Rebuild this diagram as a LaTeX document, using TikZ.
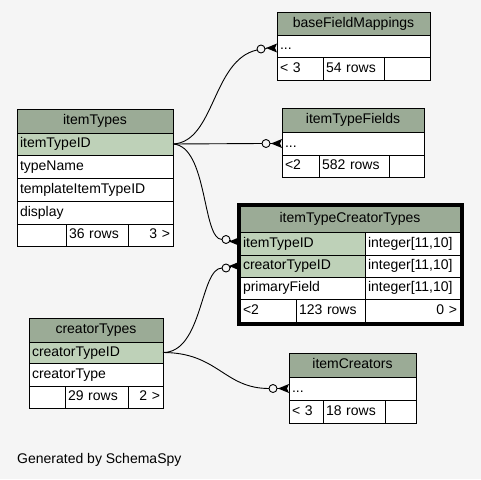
\documentclass[tikz,border=0pt]{standalone}
\usepackage{fontspec}
\setmainfont{Liberation Sans}
\usetikzlibrary{calc}
\definecolor{bg}{HTML}{F5F5F5}
\definecolor{headc}{HTML}{9BAB96}
\definecolor{keyc}{HTML}{BED1B8}
\tikzset{
  cell/.style={draw=black,line width=1pt,fill=white,inner xsep=3pt,inner ysep=0pt,outer sep=0pt,
    text height=10pt,text depth=3pt,font=\fontsize{14}{16}\selectfont},
  head/.style={fill=headc},
  keyrow/.style={fill=keyc},
  conn/.style={draw=black,line width=0.9pt},
}
\newcommand\tcell[8]{%
  \pgfmathsetmacro\tcw{#4-#2}%
  \pgfmathsetmacro\tch{#5-#3}%
  \pgfmathsetmacro\tct{#4-#2-6}%
  \node[cell,#6,minimum width=\tcw pt,minimum height=\tch pt,text width=\tct pt,align=#7,anchor=north west] (#1) at (#2,#3) {#8};}
\newcommand\crowodot[2]{%
  \draw[conn,fill=bg] (#1) circle (4pt);
  \draw[conn] ($(#1)+(4pt,0)$) -- ($(#2)+(-10pt,0)$);
  \fill ($(#2)+(-11pt,0)$) -- ($(#2)+(0,-4.5pt)$) -- ($(#2)+(-2pt,0)$) -- ($(#2)+(0,4.5pt)$) -- cycle;}
\begin{document}
\begin{tikzpicture}[x=1pt,y=-1pt]
\fill[bg] (0,0) rectangle (481,479);
\useasboundingbox (0,0) rectangle (481,479);

% baseFieldMappings
\tcell{bfm-h}{277}{12}{430}{35}{head}{center}{baseFieldMappings}
\tcell{bfm-1}{277}{35}{430}{57}{}{left}{...}
\tcell{bfm-f1}{277}{57}{323}{80}{}{left}{< 3}
\tcell{bfm-f2}{323}{57}{384}{80}{}{left}{54 rows}
\tcell{bfm-f3}{384}{57}{430}{80}{}{left}{}

% itemTypes
\tcell{it-h}{17}{109}{173}{133}{head}{center}{itemTypes}
\tcell{it-1}{17}{133}{173}{155}{keyrow}{left}{itemTypeID}
\tcell{it-2}{17}{155}{173}{178}{}{left}{typeName}
\tcell{it-3}{17}{178}{173}{201}{}{left}{templateItemTypeID}
\tcell{it-4}{17}{201}{173}{224}{}{left}{display}
\tcell{it-f1}{17}{224}{66}{246}{}{left}{}
\tcell{it-f2}{66}{224}{128}{246}{}{left}{36 rows}
\tcell{it-f3}{128}{224}{173}{246}{}{right}{3 >}

% itemTypeFields
\tcell{itf-h}{282}{108}{424}{132}{head}{center}{itemTypeFields}
\tcell{itf-1}{282}{132}{424}{155}{}{left}{...}
\tcell{itf-f1}{282}{155}{319}{177}{}{left}{<2}
\tcell{itf-f2}{319}{155}{389}{177}{}{left}{582 rows}
\tcell{itf-f3}{389}{155}{424}{177}{}{left}{}

% itemTypeCreatorTypes
\tcell{itct-h}{240}{206}{460}{232}{head}{center}{itemTypeCreatorTypes}
\tcell{itct-1}{240}{232}{365}{255}{keyrow}{left}{itemTypeID}
\tcell{itct-1t}{365}{232}{460}{255}{}{left}{integer[11,10]}
\tcell{itct-2}{240}{255}{365}{277}{keyrow}{left}{creatorTypeID}
\tcell{itct-2t}{365}{255}{460}{277}{}{left}{integer[11,10]}
\tcell{itct-3}{240}{277}{365}{299}{}{left}{primaryField}
\tcell{itct-3t}{365}{277}{460}{299}{}{left}{integer[11,10]}
\tcell{itct-f1}{240}{299}{296}{322}{}{left}{<2}
\tcell{itct-f2}{296}{299}{365}{322}{}{left}{123 rows}
\tcell{itct-f3}{365}{299}{460}{322}{}{right}{0 >}
\draw[line width=3pt] ($(itct-h.north west)+(-2,-2)$) rectangle ($(itct-f3.south east)+(2,2)$);

% creatorTypes
\tcell{ct-h}{29}{318}{163}{342}{head}{center}{creatorTypes}
\tcell{ct-1}{29}{342}{163}{363}{keyrow}{left}{creatorTypeID}
\tcell{ct-2}{29}{363}{163}{386}{}{left}{creatorType}
\tcell{ct-f1}{29}{386}{65}{408}{}{left}{}
\tcell{ct-f2}{65}{386}{128}{408}{}{left}{29 rows}
\tcell{ct-f3}{128}{386}{163}{408}{}{right}{2 >}

% itemCreators
\tcell{ic-h}{289}{353}{416}{377}{head}{center}{itemCreators}
\tcell{ic-1}{289}{377}{416}{400}{}{left}{...}
\tcell{ic-f1}{289}{400}{323}{423}{}{left}{< 3}
\tcell{ic-f2}{323}{400}{385}{423}{}{left}{18 rows}
\tcell{ic-f3}{385}{400}{416}{423}{}{left}{}

% arrow end points on the tables and circle positions
\coordinate (t-bfm) at ($(bfm-1.west)+(0,2)$);
\coordinate (t-itct1) at ($(itct-1.west)+(0,-2)$);
\coordinate (o-bfm) at ($(t-bfm)+(-16,1)$);
\coordinate (o-itf) at ($(itf-1.west)+(-16,0)$);
\coordinate (o-itct1) at ($(t-itct1)+(-14,-2)$);
\coordinate (o-itct2) at ($(itct-2.west)+(-14,2)$);
\coordinate (o-ic) at ($(ic-1.west)+(-16,0)$);

% connectors
\draw[conn] (it-1.east) .. controls +(42,-2) and +(-45,10) .. ($(o-bfm)+(-4,1)$);
\draw[conn] (it-1.east) -- ($(o-itf)+(-4,0)$);
\draw[conn] (it-1.east) .. controls +(35,2) and +(-20,0) .. ($(o-itct1)+(-4,0)$);
\draw[conn] (ct-1.east) .. controls +(40,0) and +(-22,0) .. ($(o-itct2)+(-4,0)$);
\draw[conn] (ct-1.east) .. controls +(55,0) and +(-45,0) .. ($(o-ic)+(-4,0)$);

\crowodot{o-bfm}{t-bfm}
\crowodot{o-itf}{itf-1.west}
\crowodot{o-itct1}{t-itct1}
\crowodot{o-itct2}{itct-2.west}
\crowodot{o-ic}{ic-1.west}

\node[anchor=west,inner sep=0pt,font=\fontsize{14}{16}\selectfont] (gen) at (17,460) {Generated by SchemaSpy};
\end{tikzpicture}
\end{document}
